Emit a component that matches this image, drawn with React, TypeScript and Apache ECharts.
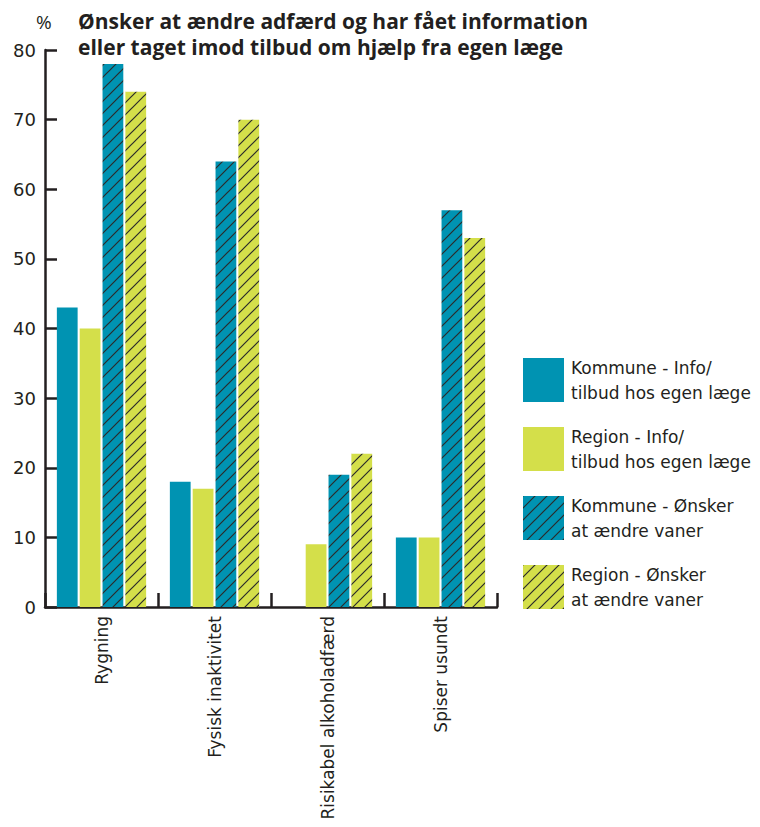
import React, { useEffect, useRef } from "react";
import * as echarts from "echarts";

const categories = ["Rygning", "Fysisk inaktivitet", "Risikabel alkoholadfærd", "Spiser usundt"];
const kommuneInfo = [43, 18, 0, 10];
const regionInfo = [40, 17, 9, 10];
const kommuneOnsker = [78, 64, 19, 57];
const regionOnsker = [74, 70, 22, 53];
const seriesNames = [
  "Kommune - Info/ tilbud hos egen læge",
  "Region - Info/ tilbud hos egen læge",
  "Kommune - Ønsker at ændre vaner",
  "Region - Ønsker at ændre vaner",
];
const legendLabels = [
  "Kommune - Info/\ntilbud hos egen læge",
  "Region - Info/\ntilbud hos egen læge",
  "Kommune - Ønsker\nat ændre vaner",
  "Region - Ønsker\nat ændre vaner",
];
const titleLines = ["Ønsker at ændre adfærd og har fået information", "eller taget imod tilbud om hjælp fra egen læge"];
const unitLabel = "%";

const BLUE = "#0093b2";
const GREEN = "#d4df4a";
const INK = "#231f20";
const FONT = "'Open Sans', sans-serif";
const FONT2 = "'DejaVu Sans', sans-serif";

function hatch(bg: string) {
  const s = 12;
  const c = document.createElement("canvas");
  c.width = s;
  c.height = s;
  const ctx = c.getContext("2d")!;
  ctx.fillStyle = bg;
  ctx.fillRect(0, 0, s, s);
  ctx.strokeStyle = "#2b2b2b";
  ctx.lineWidth = 1.2;
  ctx.beginPath();
  ctx.moveTo(-2, s + 2);
  ctx.lineTo(s + 2, -2);
  ctx.moveTo(-2, 2);
  ctx.lineTo(2, -2);
  ctx.moveTo(s - 2, s + 2);
  ctx.lineTo(s + 2, s - 2);
  ctx.stroke();
  return { image: c, repeat: "repeat", imageWidth: s, imageHeight: s } as any;
}

export default function App() {
  const ref = useRef<HTMLDivElement>(null);
  useEffect(() => {
    document.body.style.margin = "0";
    const chart = echarts.init(ref.current!, null, { renderer: "svg" });
    const colors = [BLUE, GREEN, hatch(BLUE), hatch(GREEN)];
    const datas = [kommuneInfo, regionInfo, kommuneOnsker, regionOnsker];
    chart.setOption({
      animation: false,
      grid: { left: 45, top: 50, width: 452, bottom: 220, outerBoundsMode: "none", containLabel: false },
      graphic: [
        { type: "text", left: 36, top: 12, style: { text: unitLabel, font: `19px ${FONT}`, fill: INK } },
        {
          type: "text",
          left: 78,
          top: 8,
          style: { text: titleLines.join("\n"), font: `bold 21px ${FONT}`, lineHeight: 26, fill: INK },
        },
      ],
      legend: {
        orient: "vertical",
        left: 518,
        top: 350,
        itemWidth: 41,
        itemHeight: 44,
        itemGap: 19,
        icon: "rect",
        data: seriesNames,
        formatter: (n: string) => legendLabels[seriesNames.indexOf(n)],
        textStyle: { fontSize: 17, fontFamily: FONT2, color: INK, lineHeight: 25, padding: [0, 0, 0, 2] },
      },
      xAxis: {
        type: "category",
        data: categories,
        axisLine: { lineStyle: { color: INK, width: 2.5 } },
        axisTick: { show: true, inside: true, length: 14, interval: 0, lineStyle: { color: INK, width: 2.5 } },
        axisLabel: { rotate: 90, fontSize: 17, fontFamily: FONT2, color: INK, margin: 9, interval: 0 },
      },
      yAxis: {
        type: "value",
        min: 0,
        max: 80,
        interval: 10,
        splitLine: { show: false },
        axisLine: { show: true, lineStyle: { color: INK, width: 2.5 } },
        axisTick: { show: true, inside: true, length: 12, lineStyle: { color: INK, width: 2.5 } },
        axisLabel: { fontSize: 18, fontFamily: FONT2, color: INK, margin: 9 },
      },
      series: datas.map((d, i) => ({
        type: "bar",
        name: seriesNames[i],
        data: d,
        barGap: "10%",
        barCategoryGap: "21%",
        itemStyle: { color: colors[i] },
      })),
    });
    return () => chart.dispose();
  }, []);
  return <div ref={ref} style={{ width: 760, height: 827 }} />;
}
